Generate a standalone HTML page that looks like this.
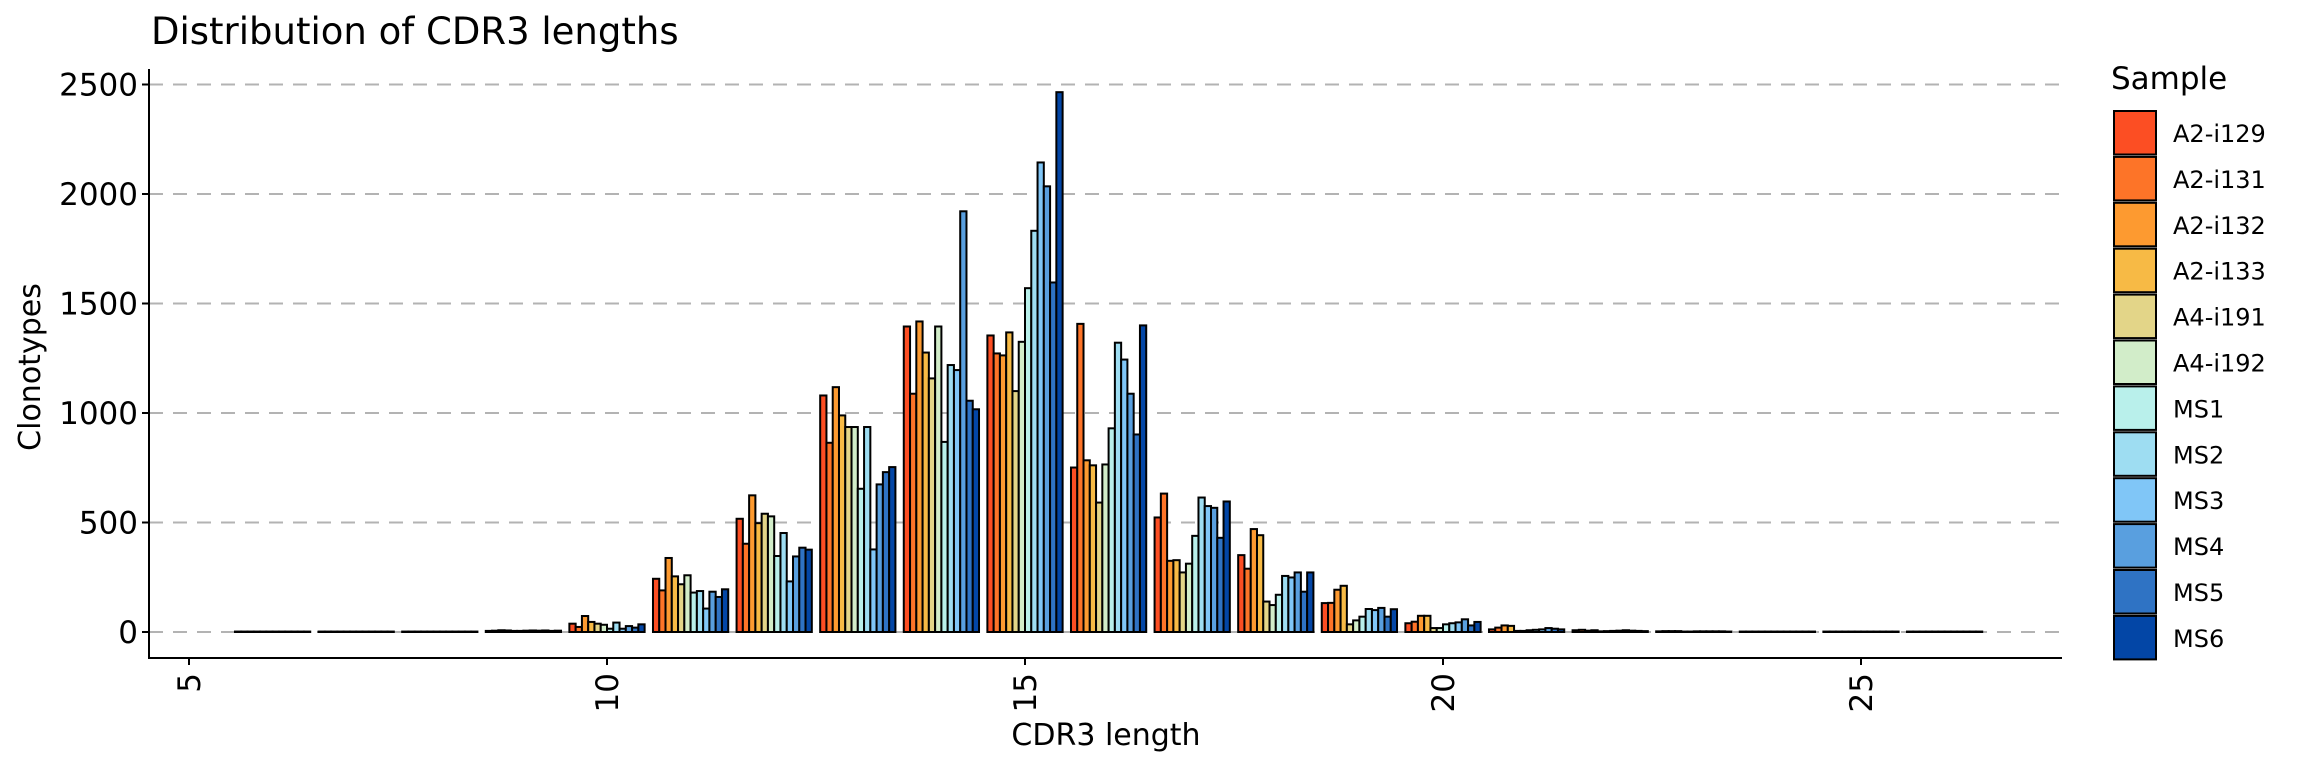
<!DOCTYPE html>
<html><head><meta charset="utf-8"><style>
html,body{margin:0;padding:0;background:#fff;}
svg{display:block;}
text{font-family:"DejaVu Sans","Liberation Sans",sans-serif;fill:#000;}
</style></head><body>
<svg id="s" width="2304" height="768" viewBox="0 0 2304 768" xmlns="http://www.w3.org/2000/svg">
<text x="151" y="44" font-size="37">Distribution of CDR3 lengths</text>
<g id="grid" stroke="#b3b3b3" stroke-width="2" stroke-dasharray="14,10"></g>
<g id="bars" stroke="#000" stroke-width="2"></g>
<line x1="149" y1="69" x2="149" y2="659" stroke="#000" stroke-width="2"/>
<line x1="148" y1="658" x2="2062" y2="658" stroke="#000" stroke-width="2"/>
<g id="axes" font-size="31"></g>
<text x="1106" y="745" font-size="30" text-anchor="middle">CDR3 length</text>
<text transform="translate(40,367) rotate(-90)" font-size="30" text-anchor="middle">Clonotypes</text>
<text x="2111" y="89" font-size="31">Sample</text>
<g id="leg" font-size="24"></g>
</svg>
<script>
var NS="http://www.w3.org/2000/svg";
function el(p,t,a,txt){var e=document.createElementNS(NS,t);for(var k in a)e.setAttribute(k,a[k]);if(txt!=null)e.textContent=txt;document.getElementById(p).appendChild(e);}
var cols=["#FC4E23","#FD7428","#FD9A30","#F7BA45","#E3D588","#D2EDC9","#B9F0EB","#9EDDF2","#80C6F7","#599FDF","#2F73C4","#0346A6"];
var names=["A2-i129","A2-i131","A2-i132","A2-i133","A4-i191","A4-i192","MS1","MS2","MS3","MS4","MS5","MS6"];
var y0=632,k=109.5/500;
function Y(v){return y0-v*k;}
function X(L){return 607+(L-10)*83.6;}
for(var g=0;g<=2500;g+=500){el("grid","line",{x1:149,x2:2062,y1:Y(g),y2:Y(g)});
 el("axes","line",{x1:142,x2:149,y1:Y(g),y2:Y(g),stroke:"#000","stroke-width":2});
 el("axes","text",{x:138,y:Y(g)+11,"text-anchor":"end"},String(g));}
[5,10,15,20,25].forEach(function(t){var x=X(t);
 el("axes","line",{x1:x,x2:x,y1:658,y2:665,stroke:"#000","stroke-width":2});
 el("axes","text",{transform:"translate("+(x+11)+",673) rotate(-90)","text-anchor":"end"},String(t));});
var d={
6:[2,2,2,2,2,2,2,2,2,2,2,2],7:[2,2,2,2,2,2,2,2,2,2,2,2],8:[2,2,2,2,2,2,2,2,2,2,2,2],
9:[5,6,8,7,5,5,6,7,6,7,5,6],
10:[38,23,73,46,38,33,15,43,15,27,20,35],
11:[243,190,338,254,218,259,180,187,107,184,160,195],
12:[517,403,624,497,540,528,347,452,231,345,385,376],
13:[1080,864,1118,989,936,936,654,936,377,674,730,753],
14:[1395,1088,1418,1276,1158,1395,868,1219,1196,1921,1056,1017],
15:[1354,1272,1263,1368,1100,1325,1570,1832,2144,2035,1596,2465],
16:[751,1407,784,761,591,765,930,1321,1244,1088,902,1400],
17:[523,632,325,328,272,312,439,614,575,567,430,596],
18:[351,289,470,442,139,123,170,256,249,272,184,272],
19:[132,133,193,211,35,53,70,105,100,110,70,104],
20:[40,47,74,74,18,18,35,40,44,58,30,46],
21:[12,20,30,28,5,5,8,10,12,18,15,12],
22:[8,10,6,8,3,4,5,6,8,6,5,4],
23:[3,4,4,4,2,2,3,3,3,3,3,2],24:[2,2,2,2,2,2,2,2,2,2,2,2],25:[2,2,2,2,2,2,2,2,2,2,2,2],26:[2,2,2,2,2,2,2,2,2,2,2,2]};
var bw=0.9*83.6/12;
for(var L=6;L<=26;L++){var x0=X(L)-0.45*83.6;
 d[L].forEach(function(v,i){el("bars","rect",{x:x0+i*bw,y:Y(v),width:bw,height:v*k,fill:cols[i]});});}
for(var i=0;i<12;i++){var y=110+i*45.9;
 el("leg","rect",{x:2114,y:y+1,width:42,height:43.5,fill:cols[i],stroke:"#000","stroke-width":2});
 el("leg","text",{x:2173,y:y+32},names[i]);}
</script>
</body></html>
